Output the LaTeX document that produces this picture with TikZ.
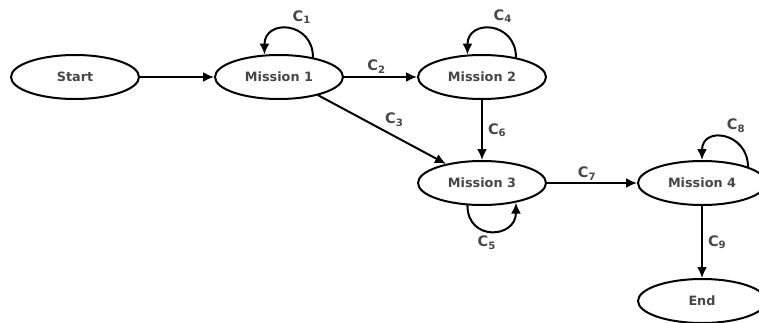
\documentclass[tikz,border=0pt]{standalone}
\usepackage{fontspec}
\setmainfont{DejaVu Sans}
\usetikzlibrary{arrows.meta, positioning, calc, shapes.geometric}

\begin{document}
\begin{tikzpicture}[x=1pt, y=1pt, >={Latex[length=11pt, width=10pt]}, line cap=round, line join=round]
		
		%======================
		% STYLES
		%======================
		\tikzset{
			state/.style={ellipse, draw, line width=2pt, minimum width=128pt, minimum height=44pt,
				inner sep=0pt, font=\fontsize{12.8}{14}\selectfont\bfseries, text=black!72},
			trans/.style={line width=2pt, ->},
			loopup/.style={trans, out=90, in=90, looseness=1.9},
			loopdown/.style={trans, out=-90, in=-90, looseness=1.9},
			lbl/.style={font=\fontsize{14.5}{15}\selectfont\bfseries, text=black!72, inner sep=2pt}
		}
		
		% Utility: transition label C_k
		\newcommand{\cond}[1]{C\textsubscript{#1}}
		
		\useasboundingbox (0,0) rectangle (759,322);
		
		%----------------------
		% States
		%----------------------
		\node[state] (start) at (75,245) {Start};
		\node[state] (m1) at (279,245) {Mission 1};
		\node[state] (m2) at (482,245) {Mission 2};
		\node[state] (m3) at (482,139) {Mission 3};
		\node[state] (m4) at (702,139) {Mission 4};
		\node[state] (end) at (702,21) {End};
		
		%----------------------
		% Transitions
		%----------------------
		\draw[trans] (start) -- (m1);
		\draw[trans] (m1) -- node[lbl, above=1pt, xshift=-4pt] {\cond{2}} (m2);
		\draw[trans] (m1.-25) -- node[lbl, above right=0pt and 0pt] {\cond{3}} (m3.152);
		\draw[trans] (m2) -- node[lbl, right=3pt] {\cond{6}} (m3);
		\draw[trans] (m3) -- node[lbl, above=0pt, xshift=-5pt] {\cond{7}} (m4);
		\draw[trans] (m4) -- node[lbl, right=3pt] {\cond{9}} (end);
		
		% self loops
		\draw[loopup] (m1.30) to node[lbl, above right=2pt and 1pt] {\cond{1}} (m1.123);
		\draw[loopup] (m2.30) to node[lbl, above right=3pt and -1pt] {\cond{4}} (m2.123);
		\draw[loopdown] (m3.-123) to node[lbl, below=2pt, xshift=-5pt] {\cond{5}} (m3.-30);
		\draw[loopup] (m4.north east) to node[lbl, above right=2pt and -1pt] {\cond{8}} (m4.north);
		
	\end{tikzpicture}
\end{document}
